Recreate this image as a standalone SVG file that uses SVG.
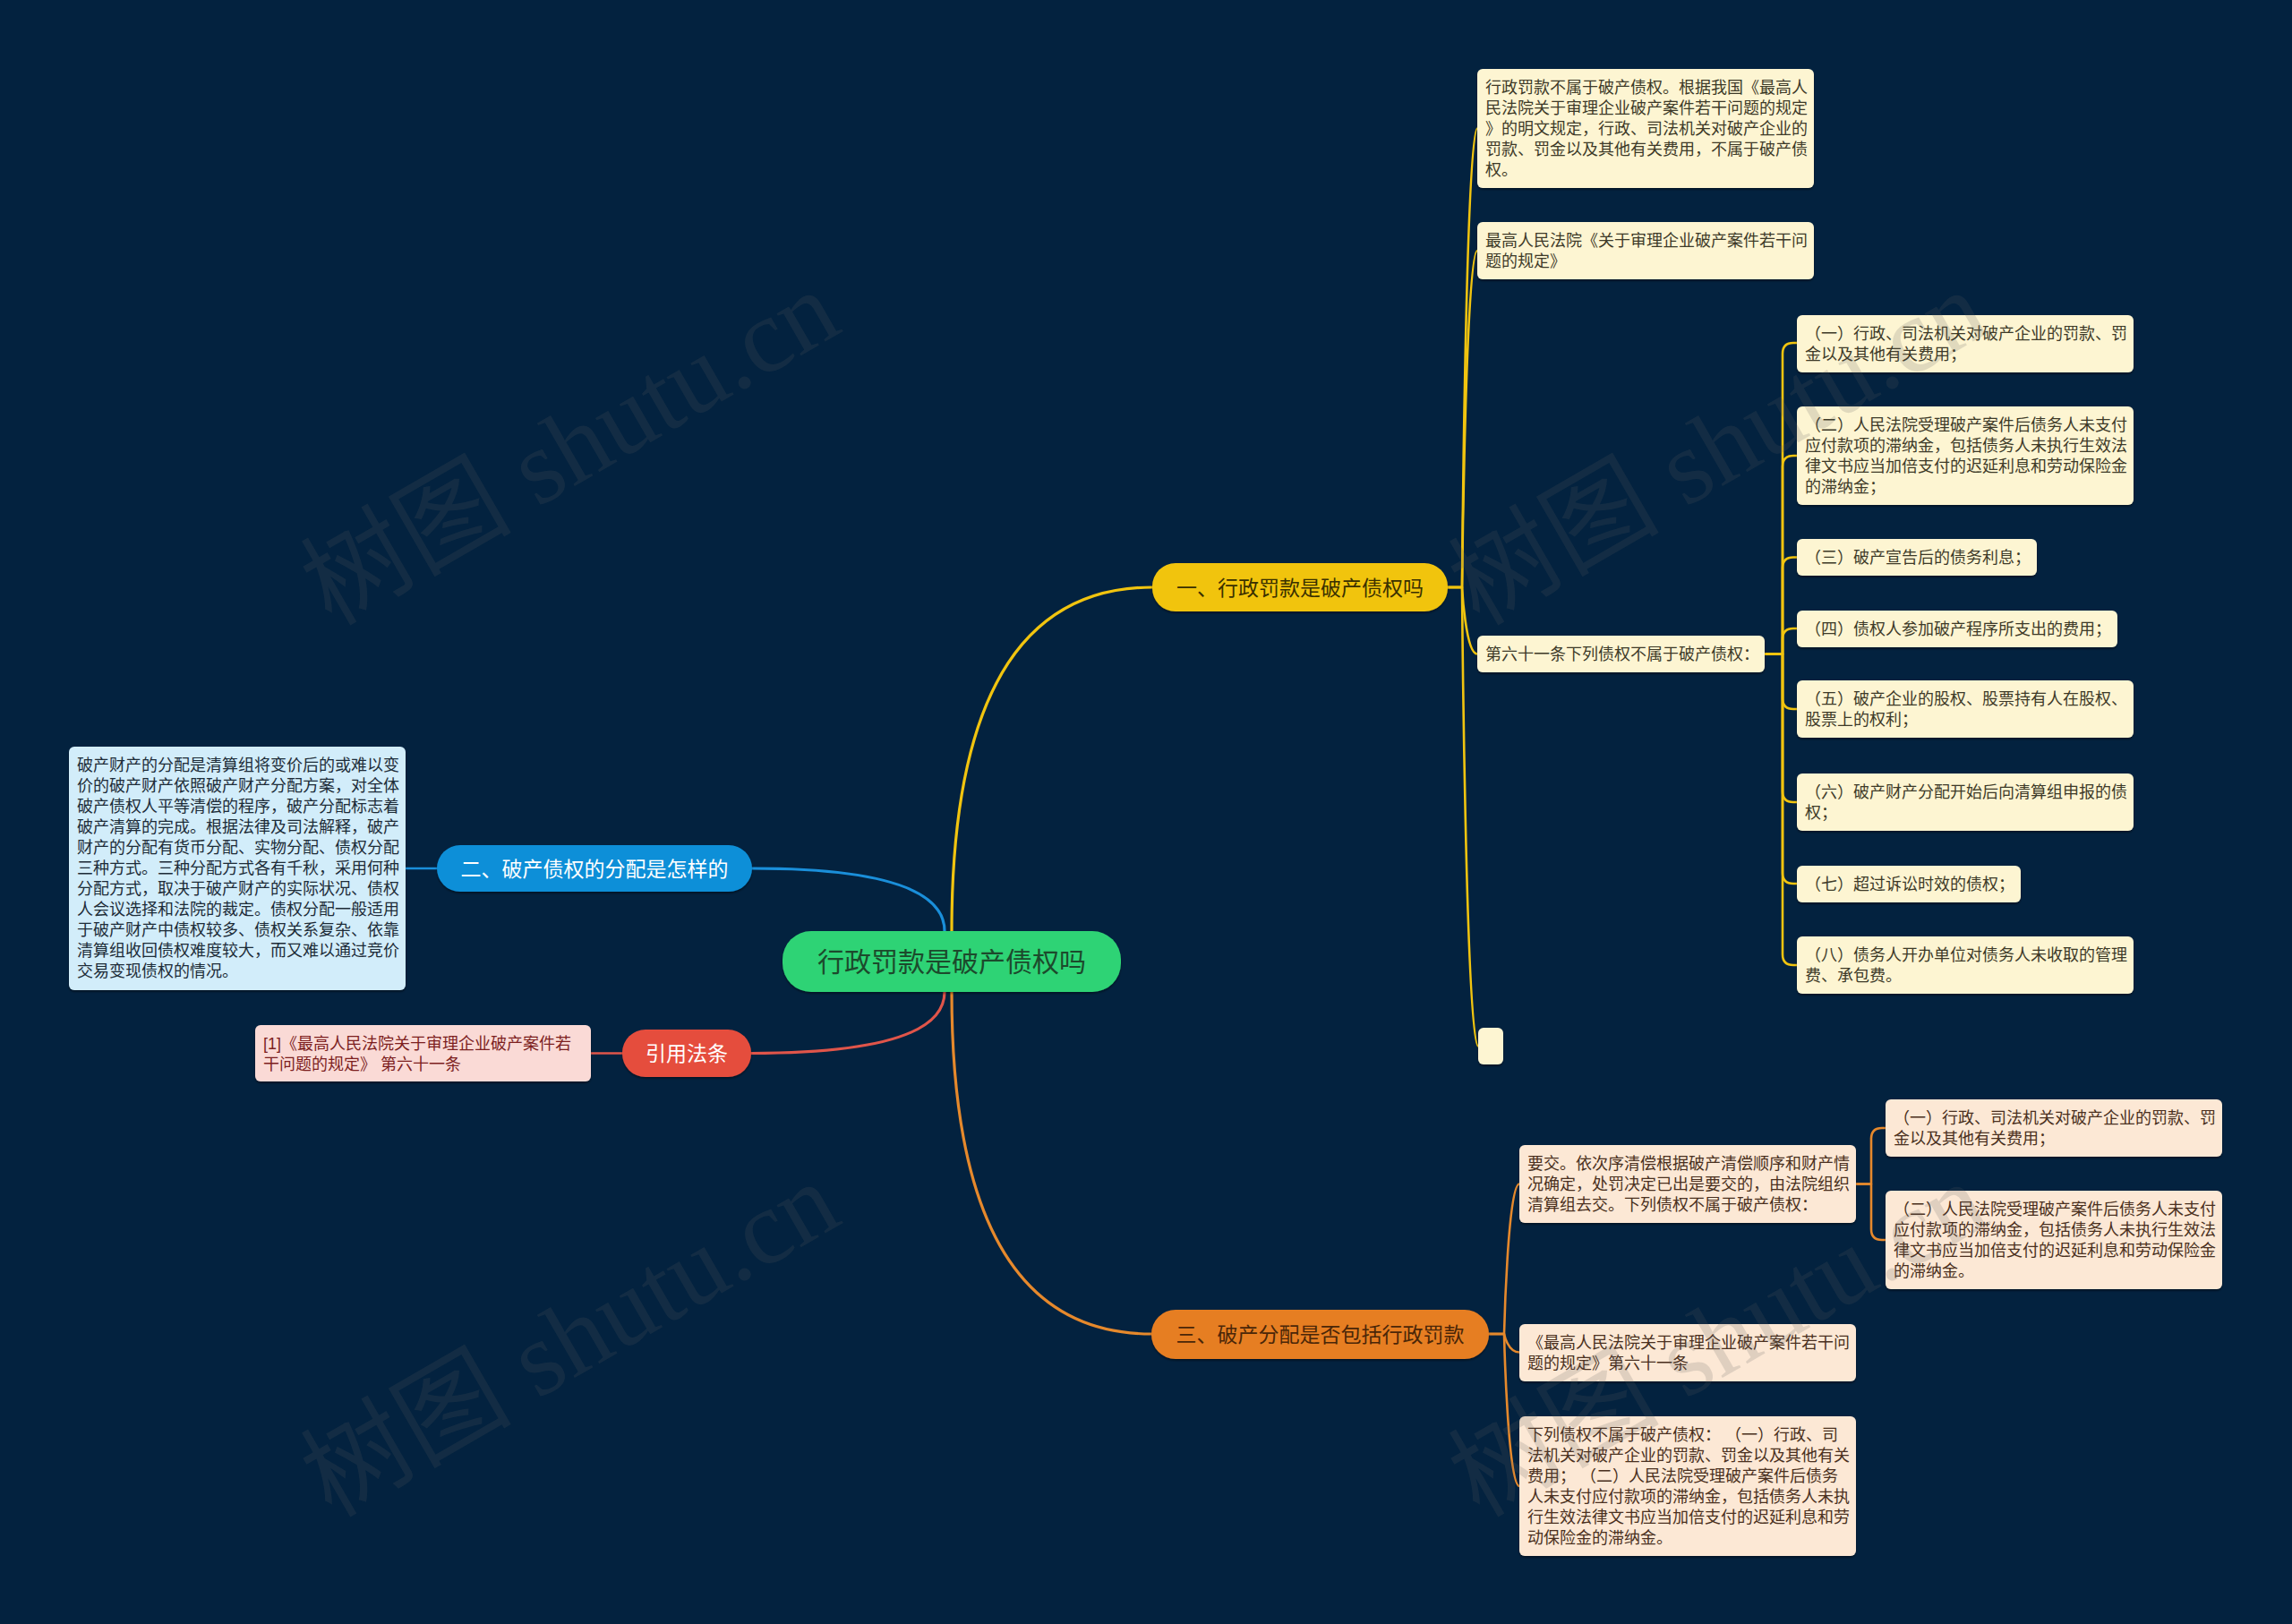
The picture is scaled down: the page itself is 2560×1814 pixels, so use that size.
<svg xmlns="http://www.w3.org/2000/svg" width="2560" height="1814" viewBox="0 0 2560 1814">
<defs>
<style>
text { font-family: 'Liberation Sans', 'Noto Sans CJK SC', sans-serif; }
.lf { font-size: 18px; }
.ly { fill: #fdf5d2; }
.lo { fill: #fce8d5; }
.lb { fill: #d2edfa; }
.lr { fill: #fadad6; }
.ty { fill: #3d3a28; }
.to { fill: #4a3020; }
.tb { fill: #1d2c38; }
.tr { fill: #7d1f1f; }
.mn { font-size: 23px; text-anchor: middle; }
.c { fill: none; stroke-linecap: round; stroke-linejoin: round; }
.cy { stroke: #f1c40f; }
.co { stroke: #e6892c; }
.cb { stroke: #1a8fda; }
.cr { stroke: #e0554a; }
.m { stroke-width: 3.2; }
.s { stroke-width: 2.6; }
.wm { font-family: 'Liberation Serif', 'Noto Sans CJK SC', serif; font-size: 118px; fill: #606060; fill-opacity: 0.18; }
</style>
<filter id="sh" x="-5%" y="-10%" width="110%" height="130%">
<feDropShadow dx="0" dy="2" stdDeviation="1.2" flood-color="#000" flood-opacity="0.4"/>
</filter>
</defs>
<rect x="0" y="0" width="2560" height="1814" fill="#03223f"/>

<g id="connectors">
<path class="c cy m" d="M1063 1040 Q1063 656 1287 656"/>
<path class="c cb m" d="M1055 1040 Q1055 970 840 970"/>
<path class="c cr m" d="M1055 1108 Q1055 1176.5 839 1176.5"/>
<path class="c co m" d="M1063 1108 Q1063 1490 1286 1490"/>
<path class="c cb s" d="M488 970 H453"/>
<path class="c cr s" d="M695 1176.5 H660"/>
<path class="c cy s" d="M1617 656 H1633 C1633 656 1637 143.5 1650 143.5"/>
<path class="c cy s" d="M1617 656 H1633 C1633 656 1637 280 1650 280"/>
<path class="c cy s" d="M1617 656 H1633 C1633 656 1637 730.5 1650 730.5"/>
<path class="c cy s" d="M1617 656 H1633 C1633 656 1637 1168.5 1651 1168.5"/>
<path class="c cy s" d="M1971 730.5 H1991 V395 Q1991 383 2003 383 H2007"/>
<path class="c cy s" d="M1971 730.5 H1991 V521 Q1991 509 2003 509 H2007"/>
<path class="c cy s" d="M1971 730.5 H1991 V634.5 Q1991 622.5 2003 622.5 H2007"/>
<path class="c cy s" d="M1971 730.5 H1991 V714 Q1991 702 2003 702 H2007"/>
<path class="c cy s" d="M1971 730.5 H1991 V780 Q1991 792 2003 792 H2007"/>
<path class="c cy s" d="M1971 730.5 H1991 V884 Q1991 896 2003 896 H2007"/>
<path class="c cy s" d="M1971 730.5 H1991 V975 Q1991 987 2003 987 H2007"/>
<path class="c cy s" d="M1971 730.5 H1991 V1066 Q1991 1078 2003 1078 H2007"/>
<path class="c co s" d="M1663 1490 H1680 C1680 1490 1684 1322.5 1697 1322.5"/>
<path class="c co s" d="M1663 1490 H1680 C1680 1490 1684 1510.5 1697 1510.5"/>
<path class="c co s" d="M1663 1490 H1680 C1680 1490 1684 1660 1697 1660"/>
<path class="c co s" d="M2073 1322.5 H2090 V1272 Q2090 1260 2102 1260 H2106"/>
<path class="c co s" d="M2073 1322.5 H2090 V1373 Q2090 1385 2102 1385 H2106"/>
</g>

<g id="root">
<rect x="874" y="1040" width="378" height="68" rx="32" fill="#2fd374" filter="url(#sh)"/>
<text x="1063" y="1085" font-size="30" text-anchor="middle" fill="#1c4a2c">行政罚款是破产债权吗</text>
</g>

<g id="b1">
<rect x="1287" y="629" width="330" height="54" rx="26" fill="#f1c40f" filter="url(#sh)"/>
<text class="mn" x="1452" y="664.5" fill="#3a3000">一、行政罚款是破产债权吗</text>
</g>
<g id="b2">
<rect x="488" y="944" width="352" height="52" rx="26" fill="#0f8fd8" filter="url(#sh)"/>
<text class="mn" x="664" y="978.5" fill="#ffffff">二、破产债权的分配是怎样的</text>
</g>
<g id="b3">
<rect x="695" y="1150" width="144" height="53" rx="26" fill="#e54d3e" filter="url(#sh)"/>
<text class="mn" x="767" y="1185" fill="#ffffff">引用法条</text>
</g>
<g id="b4">
<rect x="1286" y="1463" width="377" height="55" rx="27" fill="#e67e22" filter="url(#sh)"/>
<text class="mn" x="1474.5" y="1499" fill="#4a2608">三、破产分配是否包括行政罚款</text>
</g>

<g id="y-a">
<rect class="ly" x="1650" y="77" width="376" height="133" rx="6" filter="url(#sh)"/>
<text class="lf ty"><tspan x="1659" y="104">行政罚款不属于破产债权。根据我国《最高人</tspan><tspan x="1659" y="127">民法院关于审理企业破产案件若干问题的规定</tspan><tspan x="1659" y="150">》的明文规定，行政、司法机关对破产企业的</tspan><tspan x="1659" y="173">罚款、罚金以及其他有关费用，不属于破产债</tspan><tspan x="1659" y="196">权。</tspan></text>
</g>
<g id="y-b">
<rect class="ly" x="1650" y="248" width="376" height="64" rx="6" filter="url(#sh)"/>
<text class="lf ty"><tspan x="1659" y="275">最高人民法院《关于审理企业破产案件若干问</tspan><tspan x="1659" y="298">题的规定》</tspan></text>
</g>
<g id="y-c">
<rect class="ly" x="1650" y="710" width="321" height="41" rx="6" filter="url(#sh)"/>
<text class="lf ty" x="1659" y="737">第六十一条下列债权不属于破产债权：</text>
</g>
<g id="y-empty">
<rect class="ly" x="1651" y="1148" width="28" height="41" rx="6" filter="url(#sh)"/>
</g>
<g id="y-1">
<rect class="ly" x="2007" y="352" width="376" height="64" rx="6" filter="url(#sh)"/>
<text class="lf ty"><tspan x="2016" y="379">（一）行政、司法机关对破产企业的罚款、罚</tspan><tspan x="2016" y="402">金以及其他有关费用；</tspan></text>
</g>
<g id="y-2">
<rect class="ly" x="2007" y="454" width="376" height="110" rx="6" filter="url(#sh)"/>
<text class="lf ty"><tspan x="2016" y="481">（二）人民法院受理破产案件后债务人未支付</tspan><tspan x="2016" y="504">应付款项的滞纳金，包括债务人未执行生效法</tspan><tspan x="2016" y="527">律文书应当加倍支付的迟延利息和劳动保险金</tspan><tspan x="2016" y="550">的滞纳金；</tspan></text>
</g>
<g id="y-3">
<rect class="ly" x="2007" y="602" width="268" height="41" rx="6" filter="url(#sh)"/>
<text class="lf ty" x="2016" y="629">（三）破产宣告后的债务利息；</text>
</g>
<g id="y-4">
<rect class="ly" x="2007" y="682" width="358" height="41" rx="6" filter="url(#sh)"/>
<text class="lf ty" x="2016" y="709">（四）债权人参加破产程序所支出的费用；</text>
</g>
<g id="y-5">
<rect class="ly" x="2007" y="760" width="376" height="64" rx="6" filter="url(#sh)"/>
<text class="lf ty"><tspan x="2016" y="787">（五）破产企业的股权、股票持有人在股权、</tspan><tspan x="2016" y="810">股票上的权利；</tspan></text>
</g>
<g id="y-6">
<rect class="ly" x="2007" y="864" width="376" height="64" rx="6" filter="url(#sh)"/>
<text class="lf ty"><tspan x="2016" y="891">（六）破产财产分配开始后向清算组申报的债</tspan><tspan x="2016" y="914">权；</tspan></text>
</g>
<g id="y-7">
<rect class="ly" x="2007" y="967" width="250" height="41" rx="6" filter="url(#sh)"/>
<text class="lf ty" x="2016" y="994">（七）超过诉讼时效的债权；</text>
</g>
<g id="y-8">
<rect class="ly" x="2007" y="1046" width="376" height="64" rx="6" filter="url(#sh)"/>
<text class="lf ty"><tspan x="2016" y="1073">（八）债务人开办单位对债务人未收取的管理</tspan><tspan x="2016" y="1096">费、承包费。</tspan></text>
</g>

<g id="b-leaf">
<rect class="lb" x="77" y="834" width="376" height="272" rx="6" filter="url(#sh)"/>
<text class="lf tb"><tspan x="86" y="861">破产财产的分配是清算组将变价后的或难以变</tspan><tspan x="86" y="884">价的破产财产依照破产财产分配方案，对全体</tspan><tspan x="86" y="907">破产债权人平等清偿的程序，破产分配标志着</tspan><tspan x="86" y="930">破产清算的完成。根据法律及司法解释，破产</tspan><tspan x="86" y="953">财产的分配有货币分配、实物分配、债权分配</tspan><tspan x="86" y="976">三种方式。三种分配方式各有千秋，采用何种</tspan><tspan x="86" y="999">分配方式，取决于破产财产的实际状况、债权</tspan><tspan x="86" y="1022">人会议选择和法院的裁定。债权分配一般适用</tspan><tspan x="86" y="1045">于破产财产中债权较多、债权关系复杂、依靠</tspan><tspan x="86" y="1068">清算组收回债权难度较大，而又难以通过竞价</tspan><tspan x="86" y="1091">交易变现债权的情况。</tspan></text>
</g>

<g id="r-leaf">
<rect class="lr" x="285" y="1145" width="375" height="63" rx="6" filter="url(#sh)"/>
<text class="lf tr"><tspan x="294" y="1172">[1]《最高人民法院关于审理企业破产案件若</tspan><tspan x="294" y="1195">干问题的规定》 第六十一条</tspan></text>
</g>

<g id="o-d">
<rect class="lo" x="1697" y="1279" width="376" height="87" rx="6" filter="url(#sh)"/>
<text class="lf to"><tspan x="1706" y="1306">要交。依次序清偿根据破产清偿顺序和财产情</tspan><tspan x="1706" y="1329">况确定，处罚决定已出是要交的，由法院组织</tspan><tspan x="1706" y="1352">清算组去交。下列债权不属于破产债权：</tspan></text>
</g>
<g id="o-e">
<rect class="lo" x="1697" y="1479" width="376" height="64" rx="6" filter="url(#sh)"/>
<text class="lf to"><tspan x="1706" y="1506">《最高人民法院关于审理企业破产案件若干问</tspan><tspan x="1706" y="1529">题的规定》第六十一条</tspan></text>
</g>
<g id="o-f">
<rect class="lo" x="1697" y="1582" width="376" height="156" rx="6" filter="url(#sh)"/>
<text class="lf to" xml:space="preserve"><tspan x="1706" y="1609">下列债权不属于破产债权： （一）行政、司</tspan><tspan x="1706" y="1632">法机关对破产企业的罚款、罚金以及其他有关</tspan><tspan x="1706" y="1655">费用； （二）人民法院受理破产案件后债务</tspan><tspan x="1706" y="1678">人未支付应付款项的滞纳金，包括债务人未执</tspan><tspan x="1706" y="1701">行生效法律文书应当加倍支付的迟延利息和劳</tspan><tspan x="1706" y="1724">动保险金的滞纳金。</tspan></text>
</g>
<g id="o-g">
<rect class="lo" x="2106" y="1228" width="376" height="64" rx="6" filter="url(#sh)"/>
<text class="lf to"><tspan x="2115" y="1255">（一）行政、司法机关对破产企业的罚款、罚</tspan><tspan x="2115" y="1278">金以及其他有关费用；</tspan></text>
</g>
<g id="o-h">
<rect class="lo" x="2106" y="1330" width="376" height="110" rx="6" filter="url(#sh)"/>
<text class="lf to"><tspan x="2115" y="1357">（二）人民法院受理破产案件后债务人未支付</tspan><tspan x="2115" y="1380">应付款项的滞纳金，包括债务人未执行生效法</tspan><tspan x="2115" y="1403">律文书应当加倍支付的迟延利息和劳动保险金</tspan><tspan x="2115" y="1426">的滞纳金。</tspan></text>
</g>

<g id="watermarks">
<text class="wm" transform="translate(370 700) rotate(-30)">树图 shutu.cn</text>
<text class="wm" transform="translate(370 1696) rotate(-30)">树图 shutu.cn</text>
<text class="wm" transform="translate(1652 700) rotate(-30)">树图 shutu.cn</text>
<text class="wm" transform="translate(1652 1696) rotate(-30)">树图 shutu.cn</text>
</g>
</svg>
